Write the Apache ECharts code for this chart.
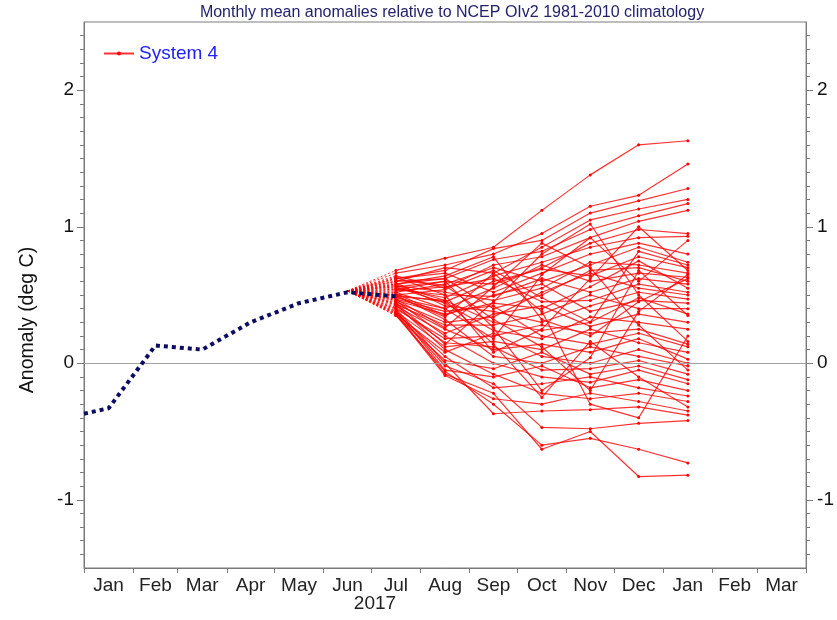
<!DOCTYPE html>
<html>
<head>
<meta charset="utf-8">
<script src="https://cdn.jsdelivr.net/npm/echarts@6/dist/echarts.min.js"></script>
<style>
  html, body { margin: 0; padding: 0; background: #fff; }
  #chart { width: 837px; height: 620px; }
</style>
</head>
<body>
<div id="chart"></div>
<script>
// x positions are days since 1 Jan 2017
const monthNames = ['Jan','Feb','Mar','Apr','May','Jun','Jul','Aug','Sep','Oct','Nov','Dec','Jan','Feb','Mar']
const monthStarts = [0,31,59,90,120,151,181,212,243,273,304,334,365,396,424,455]
const yLabels = [-1, 0, 1, 2]

// observed: value at the left edge, then mid-month Jan .. Jul 2017
const obsDays = [0, 15.5, 45, 74.5, 105, 135.5, 166, 196.5]
const obsValues = [-0.37, -0.33, 0.13, 0.10, 0.30, 0.44, 0.52, 0.49]

// forecast start point and monthly means Jul .. Jan
const startDay = 166
const startValue = 0.53
const fcDays = [196.5, 227.5, 258, 288.5, 319, 349.5, 380.5]
const members = [
  [0.68, 0.77, 0.85, 1.12, 1.38, 1.60, 1.63],
  [0.66, 0.72, 0.80, 0.95, 1.15, 1.23, 1.46],
  [0.62, 0.68, 0.84, 0.90, 1.10, 1.19, 1.28],
  [0.60, 0.70, 0.66, 0.85, 1.05, 1.13, 1.20],
  [0.58, 0.62, 0.76, 0.82, 0.98, 1.08, 1.17],
  [0.64, 0.55, 0.72, 0.78, 0.92, 1.04, 1.12],
  [0.56, 0.60, 0.58, 0.70, 0.88, 0.98, 0.95],
  [0.55, 0.48, 0.64, 0.74, 0.85, 0.92, 0.93],
  [0.62, 0.66, 0.52, 0.66, 0.80, 0.88, 0.80],
  [0.52, 0.58, 0.70, 0.60, 0.72, 0.85, 0.74],
  [0.50, 0.45, 0.60, 0.69, 0.64, 0.78, 0.70],
  [0.57, 0.52, 0.46, 0.55, 0.74, 0.72, 0.66],
  [0.48, 0.40, 0.55, 0.72, 0.60, 0.66, 0.63],
  [0.60, 0.62, 0.40, 0.50, 0.68, 0.70, 0.60],
  [0.54, 0.50, 0.49, 0.62, 0.52, 0.62, 0.58],
  [0.46, 0.36, 0.44, 0.40, 0.56, 0.75, 0.55],
  [0.53, 0.56, 0.62, 0.45, 0.46, 0.58, 0.52],
  [0.45, 0.30, 0.34, 0.52, 0.66, 0.55, 0.50],
  [0.59, 0.42, 0.38, 0.30, 0.42, 0.52, 0.47],
  [0.51, 0.35, 0.50, 0.58, 0.38, 0.46, 0.44],
  [0.43, 0.28, 0.28, 0.36, 0.50, 0.40, 0.40],
  [0.49, 0.46, 0.30, 0.24, 0.30, 0.48, 0.36],
  [0.42, 0.22, 0.36, 0.42, 0.27, 0.36, 0.30],
  [0.56, 0.44, 0.24, 0.18, 0.34, 0.30, 0.25],
  [0.40, 0.18, 0.20, 0.28, 0.22, 0.25, 0.14],
  [0.47, 0.38, 0.42, 0.20, 0.14, 0.22, 0.12],
  [0.38, 0.12, 0.16, 0.10, 0.25, 0.15, 0.08],
  [0.44, 0.25, 0.10, 0.14, 0.08, 0.18, 0.03],
  [0.36, 0.08, 0.22, 0.05, 0.00, 0.10, 0.00],
  [0.50, 0.32, 0.05, 0.00, 0.12, 0.05, -0.02],
  [0.41, 0.15, 0.12, -0.05, -0.04, 0.02, -0.08],
  [0.35, 0.02, -0.04, 0.08, -0.08, -0.02, -0.12],
  [0.46, 0.20, 0.00, -0.10, -0.14, -0.05, -0.15],
  [0.39, -0.05, -0.10, -0.02, -0.18, -0.12, -0.20],
  [0.37, 0.05, -0.18, -0.15, -0.10, -0.18, -0.24],
  [0.43, 0.10, -0.08, -0.22, -0.26, -0.22, -0.28],
  [0.36, -0.09, -0.26, -0.30, -0.22, -0.28, -0.35],
  [0.40, 0.00, -0.37, -0.35, -0.34, -0.32, -0.38],
  [0.38, -0.02, -0.15, -0.47, -0.48, -0.44, -0.42],
  [0.35, -0.06, -0.30, -0.60, -0.55, -0.63, -0.73],
  [0.37, -0.08, -0.22, -0.63, -0.50, -0.83, -0.82],
  [0.58, 0.64, 0.78, 0.32, 0.20, 0.45, 0.62],
  [0.52, 0.40, 0.18, 0.65, 0.92, 0.60, 0.90],
  [0.61, 0.57, 0.32, 0.12, -0.20, 0.38, 0.65],
  [0.47, 0.26, 0.56, 0.88, 0.70, 0.28, -0.05],
  [0.54, 0.60, 0.26, -0.20, 0.04, 0.68, 0.35],
  [0.49, 0.34, 0.66, 0.38, -0.30, -0.40, 0.20],
  [0.63, 0.50, 0.08, 0.25, 0.62, 1.00, 0.68],
  [0.44, 0.14, 0.45, 0.80, 1.02, 0.50, 0.16],
  [0.57, 0.46, 0.14, -0.25, 0.16, -0.10, -0.32],
  [0.50, 0.54, 0.68, 0.48, 0.30, 0.82, 0.72]
]

const red = 'rgba(255,0,0,0.8)'
const navy = '#0c0c66'
const font = 'Liberation Sans, Arial, sans-serif'

const monthMids = monthNames.map((m, i) => (monthStarts[i] + monthStarts[i + 1]) / 2)
const minorTicks = []
for (let i = -14; i <= 24; i++) {
  if (i % 10 !== 0) minorTicks.push(i / 10)
}

function yAx(pos, major, margin){
  return {
    type: 'value',
    position: pos,
    min: -1.5,
    max: 2.5,
    splitLine: { show: false },
    axisLine: { show: major, onZero: false, lineStyle: { color: '#7a7a7a', width: 1 } },
    axisTick: {
      show: true,
      inside: false,
      length: major ? 7 : 4,
      customValues: major ? yLabels : minorTicks,
      lineStyle: { color: '#7a7a7a' }
    },
    axisLabel: {
      show: major,
      customValues: yLabels,
      margin: margin,
      color: '#111',
      fontSize: 19,
      fontFamily: font
    }
  }
}

const series = []
// dashed links from the last observed month to the first forecast month
members.forEach((m, i) => {
  series.push({
    name: 'link' + i,
    type: 'line',
    data: [[startDay, startValue], [fcDays[0], m[0]]],
    showSymbol: false,
    silent: true,
    lineStyle: { color: red, width: 1, type: [2, 2] },
    z: 2
  })
})
members.forEach(m => {
  series.push({
    name: 'System 4',
    type: 'line',
    data: fcDays.map((d, j) => [d, m[j]]),
    symbol: 'circle',
    symbolSize: 3,
    showSymbol: true,
    itemStyle: { color: '#ff0000' },
    lineStyle: { color: red, width: 1.2 },
    silent: true,
    z: 3
  })
})
series.push({
  name: 'observed',
  type: 'line',
  data: obsDays.map((d, j) => [d, obsValues[j]]),
  showSymbol: false,
  silent: true,
  lineStyle: { color: navy, width: 4, type: [4, 4], cap: 'butt' },
  markLine: {
    silent: true,
    symbol: 'none',
    label: { show: false },
    lineStyle: { color: '#a0a0a0', width: 1, type: 'solid' },
    data: [{ yAxis: 0 }]
  },
  z: 5
})

const chart = echarts.init(document.getElementById('chart'))
chart.setOption({
  animation: false,
  backgroundColor: '#fff',
  title: {
    text: 'Monthly mean anomalies relative to NCEP OIv2 1981-2010 climatology',
    left: 447,
    top: 0,
    textAlign: 'center',
    textStyle: { color: '#22226e', fontSize: 16, fontWeight: 'normal', fontFamily: font }
  },
  legend: {
    data: ['System 4'],
    left: 98,
    top: 39,
    itemWidth: 30,
    itemHeight: 5,
    textStyle: { color: '#2020ff', fontSize: 19, fontFamily: font }
  },
  grid: {
    left: 84, right: 29, top: 22, bottom: 52,
    show: true,
    borderColor: '#7a7a7a',
    borderWidth: 1
  },
  xAxis: {
    type: 'value',
    min: 0,
    max: 455,
    splitLine: { show: false },
    axisLine: { onZero: false, lineStyle: { color: '#7a7a7a' } },
    axisTick: {
      show: true,
      length: 5,
      customValues: monthStarts,
      lineStyle: { color: '#7a7a7a' }
    },
    axisLabel: {
      customValues: monthMids,
      margin: 8,
      color: '#222',
      fontSize: 19,
      fontFamily: font,
      formatter: v => monthNames[monthMids.indexOf(v)]
    }
  },
  yAxis: [yAx('left', true, 10), yAx('left', false, 10), yAx('right', true, 11), yAx('right', false, 11)],
  graphic: [
    {
      type: 'text',
      x: 375,
      y: 604,
      style: {
        text: '2017',
        font: '19px ' + font,
        fill: '#222',
        align: 'center',
        verticalAlign: 'middle'
      }
    },
    {
      type: 'text',
      x: 28,
      y: 320,
      rotation: Math.PI / 2,
      style: {
        text: 'Anomaly (deg C)',
        font: '19.5px ' + font,
        fill: '#111',
        align: 'center',
        verticalAlign: 'middle'
      }
    }
  ],
  series: series
})
</script>
</body>
</html>
